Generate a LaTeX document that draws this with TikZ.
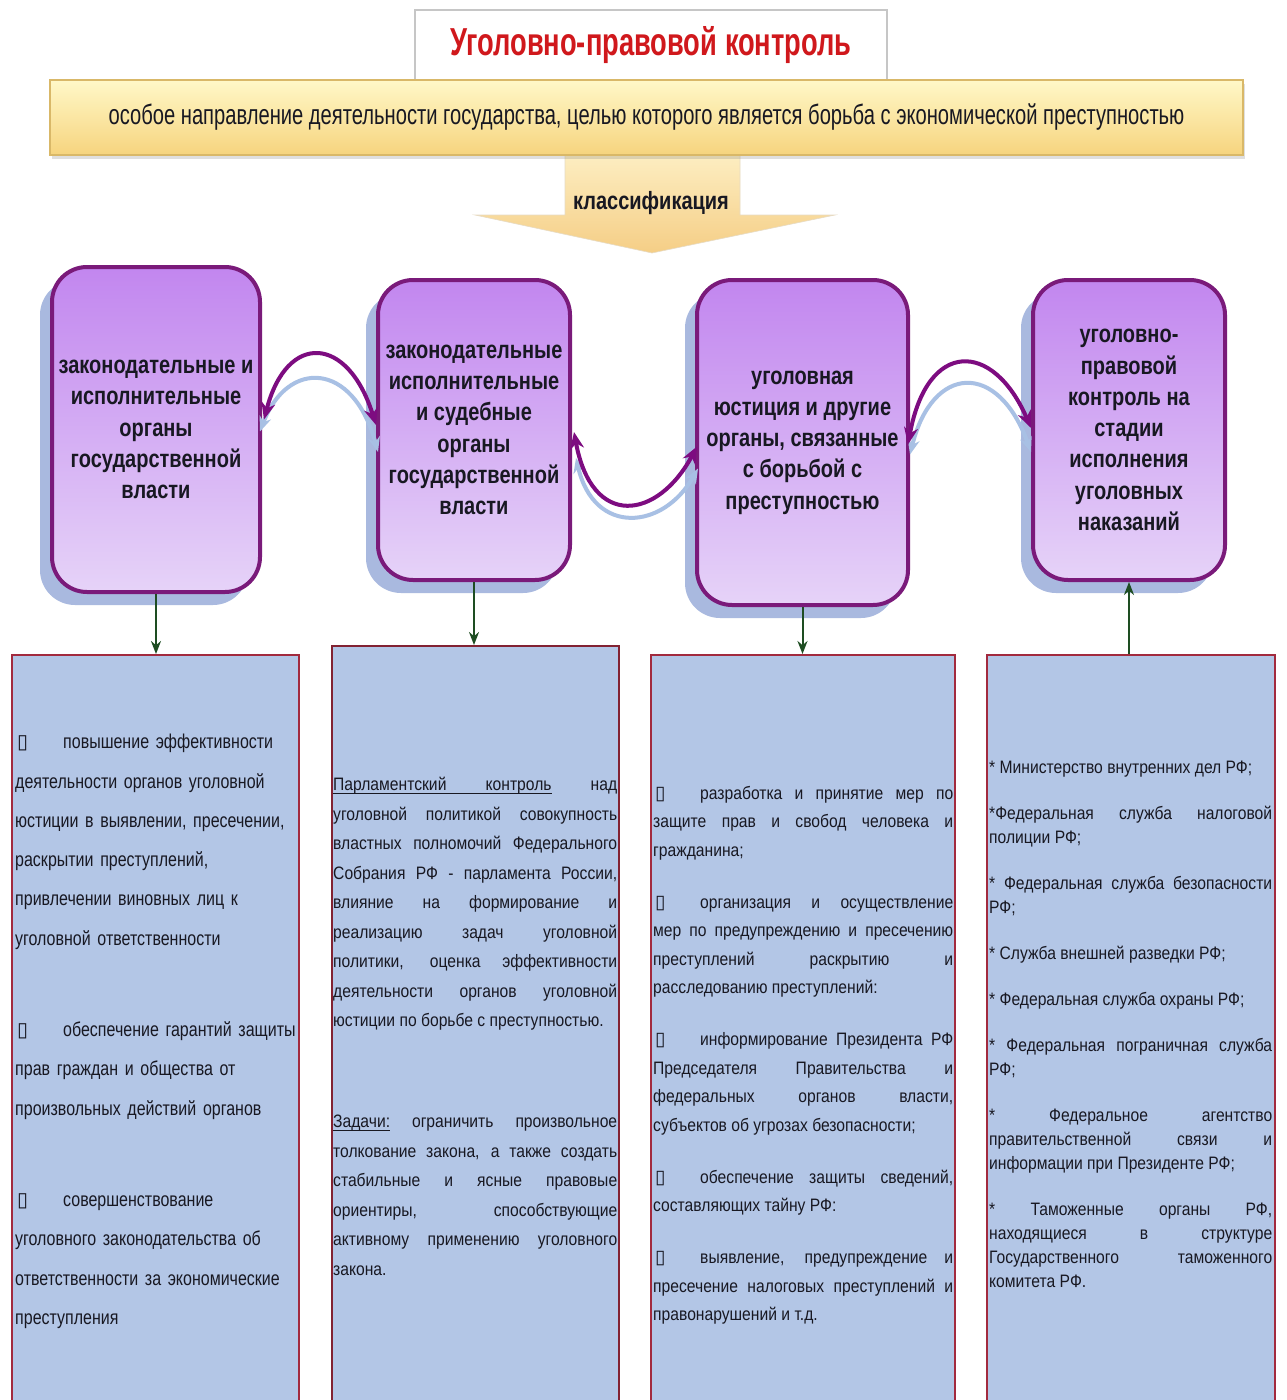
\documentclass[tikz,border=0pt]{standalone}
\usepackage{fontspec}
\setmainfont{Liberation Sans}
\newfontfamily\fTitle[FakeStretch=0.7]{Liberation Sans}
\newfontfamily\fBanner[FakeStretch=0.72]{Liberation Sans}
\newfontfamily\fBox[FakeStretch=0.8]{Liberation Sans}
\newfontfamily\fBody[FakeStretch=0.87]{Liberation Sans}
\newfontfamily\fSym{DejaVu Sans}
\usetikzlibrary{calc,arrows.meta,shadows}
\definecolor{violTop}{HTML}{C286EF}
\definecolor{violBot}{HTML}{E6D3F8}
\definecolor{violLine}{HTML}{7A1A7A}
\definecolor{connPurple}{HTML}{7D0C80}
\definecolor{connBlue}{HTML}{A8C0E4}
\definecolor{shadowBlue}{HTML}{A9B9DF}
\definecolor{panelFill}{HTML}{B3C6E6}
\definecolor{panelLine}{HTML}{A22A3E}
\definecolor{arrowGreen}{HTML}{1E4D22}
\definecolor{titleRed}{HTML}{D0181C}
\definecolor{bannerTop}{HTML}{FFF8C8}
\definecolor{bannerBot}{HTML}{F6D47E}
\definecolor{bannerLine}{HTML}{D9B868}
\definecolor{arrowTop}{HTML}{FDEFC4}
\definecolor{arrowBot}{HTML}{F5CE86}
\definecolor{inkDark}{HTML}{181822}
\setlength{\parindent}{0pt}
\newcommand{\mybulA}{\makebox[48pt][l]{\hspace{2pt}\fSym\fontsize{20}{20}\selectfont ▯}}
\newcommand{\mybulB}{\makebox[47pt][l]{\hspace{2pt}\fSym\fontsize{19}{19}\selectfont ▯}}
\newcommand{\ulword}[1]{\leavevmode\setbox0=\hbox{#1}\rlap{\vrule height -2.6pt depth 3.8pt width \wd0}\box0\relax}
\newcommand{\ulsp}{\leaders\hrule height -2.6pt depth 3.8pt\hskip\fontdimen2\font plus \fontdimen3\font minus \fontdimen4\font\relax}
\pretolerance=10000 \tolerance=10000 \hbadness=10000 \hfuzz=3pt
\begin{document}
\begin{tikzpicture}[x=1pt,y=-1pt,
  titlebox/.style={draw=gray!45, line width=2pt, fill=white, inner sep=0pt,
    font=\fTitle\bfseries\fontsize{39}{42}\selectfont, text=titleRed},
  banner/.style={draw=bannerLine, line width=1.5pt, top color=bannerTop, bottom color=bannerBot,
    inner sep=0pt, font=\fBanner\fontsize{28}{32}\selectfont, text=inkDark,
    drop shadow={shadow xshift=2pt, shadow yshift=-4pt, opacity=0.25}},
  pbox/.style={rounded corners=35pt, draw=violLine, line width=4pt,
    top color=violTop, bottom color=violBot, align=center, inner sep=0pt,
    font=\fBox\bfseries\fontsize{25}{31.3}\selectfont, text=inkDark,
    drop shadow={shadow xshift=-12pt, shadow yshift=-13pt, fill=shadowBlue, opacity=1}},
  panel/.style={draw=panelLine, line width=2pt, fill=panelFill, inner sep=0pt},
  coltext/.style={anchor=north west, inner sep=0pt, text=inkDark},
  conn/.style={draw=connPurple, line width=4pt,
    {Stealth[length=17pt,width=14pt]}-{Stealth[length=17pt,width=14pt]}},
  connshade/.style={draw=connBlue, line width=4pt,
    {Stealth[length=15pt,width=12pt]}-{Stealth[length=15pt,width=12pt]}},
  down/.style={draw=arrowGreen, line width=2pt, -{Stealth[length=13pt,width=10pt]}}
]
\fill[white] (0,0) rectangle (1286,1400);
\useasboundingbox (0,0) rectangle (1286,1400);

% title
\node[titlebox, minimum width=472pt, minimum height=70pt] (title) at (651,45) {Уголовно-правовой контроль};

% classification arrow (behind banner)
\coordinate (tip) at (652,253);
\path[top color=arrowTop, bottom color=arrowBot, draw=arrowBot!80!black!40, line width=0.6pt]
  (565,150) -- (740,150) -- (740,215) -- (835,215) -- (tip) -- (475,215) -- (565,215) -- cycle;
\node[font=\fBox\bfseries\fontsize{25}{28}\selectfont, text=inkDark, inner sep=0pt] (cls) at (651,203) {классификация};

% banner
\node[banner, minimum width=1193pt, minimum height=75pt] (banner) at (646.5,117.5)
  {особое направление деятельности государства, целью которого является борьба с экономической преступностью};

% purple boxes
\node[pbox, minimum width=208pt, minimum height=325pt] (b1) at (156,429.5)
  {законодательные и\\исполнительные\\органы\\государственной\\власти};
\node[pbox, minimum width=192pt, minimum height=300pt] (b2) at (474,430)
  {законодательные\\исполнительные\\и судебные\\органы\\государственной\\власти};
\node[pbox, minimum width=211pt, minimum height=325pt] (b3) at (802.5,442.5)
  {уголовная\\юстиция и другие\\органы, связанные\\с борьбой с\\преступностью};
\node[pbox, minimum width=192pt, minimum height=300pt] (b4) at (1129,430)
  {уголовно-\\правовой\\контроль на\\стадии\\исполнения\\уголовных\\наказаний};

% curved connectors: light shadow first, then purple
\draw[connshade] ($(b1.east)+(-2,2)$) .. controls +(27,-72) and +(-25,-92) .. ($(b2.west)+(2,22)$);
\draw[conn] ($(b1.east)+(2,-10)$) .. controls +(23,-88) and +(-28,-90) .. ($(b2.west)+(0,-5)$);

\draw[connshade] ($(b2.east)+(4,28)$) .. controls +(18,78) and +(-35,62) .. ($(b3.west)+(3,26)$);
\draw[conn] ($(b2.east)+(2,2)$) .. controls +(18,98) and +(-39,73) .. ($(b3.west)+(2,4)$);

\draw[connshade] ($(b3.east)+(0,12)$) .. controls +(22,-90) and +(-33,-92) .. ($(b4.west)+(0,22)$);
\draw[conn] ($(b3.east)+(-2,2)$) .. controls +(19,-105) and +(-38,-88) .. ($(b4.west)+(0,-2)$);

% panels
\node[panel, minimum width=287pt, minimum height=750pt] (c1) at (155.5,1030) {};
\node[panel, minimum width=287pt, minimum height=760pt, draw=panelLine!80!black] (c2) at (475.5,1026) {};
\node[panel, minimum width=304pt, minimum height=750pt] (c3) at (803,1030) {};
\node[panel, minimum width=288pt, minimum height=750pt] (c4) at (1131,1030) {};

% vertical arrows
\draw[down] (b1.south) -- (b1.south |- c1.north);
\draw[down] (b2.south) -- (b2.south |- c2.north);
\draw[down] (b3.south) -- (b3.south |- c3.north);
\draw[down] (c4.north -| b4.south) -- (b4.south);

% panel texts
\node[coltext, text width=282pt, align=left, font=\fBox\fontsize{20}{39.3}\selectfont] (t1) at (15,734)
{\mybulA повышение эффективности\\
деятельности органов уголовной\\
юстиции в выявлении, пресечении,\\
раскрытии преступлений,\\
привлечении виновных лиц к\\
уголовной ответственности\\[52pt]
\mybulA обеспечение гарантий защиты\\
прав граждан и общества от\\
произвольных действий органов\\[52pt]
\mybulA совершенствование\\
уголовного законодательства об\\
ответственности за экономические\\
преступления};

\node[coltext, text width=284pt, align=justify, font=\fBody\fontsize{18}{29.5}\selectfont] (t2) at (333,777)
{\ulword{Парламентский}\ulsp\ulword{контроль} над\linebreak
уголовной политикой совокупность\linebreak
властных полномочий Федерального\linebreak
Собрания РФ - парламента России,\linebreak
влияние на формирование и\linebreak
реализацию задач уголовной\linebreak
политики, оценка эффективности\linebreak
деятельности органов уголовной\linebreak
юстиции по борьбе с преступностью.\par
\vspace{71.5pt}
\ulword{Задачи:} ограничить произвольное\linebreak
толкование закона, а также создать\linebreak
стабильные и ясные правовые\linebreak
ориентиры, способствующие\linebreak
активному применению уголовного\linebreak
закона.\par};

\node[coltext, text width=300pt, align=justify, font=\fBody\fontsize{18}{28.5}\selectfont] (t3) at (653,786)
{\mybulB разработка и принятие мер по\linebreak
защите прав и свобод человека и\linebreak
гражданина;\par\vspace{23.5pt}
\mybulB организация и осуществление\linebreak
мер по предупреждению и пресечению\linebreak
преступлений раскрытию и\linebreak
расследованию преступлений:\par\vspace{23.5pt}
\mybulB информирование Президента РФ\linebreak
Председателя Правительства и\linebreak
федеральных органов власти,\linebreak
субъектов об угрозах безопасности;\par\vspace{23.5pt}
\mybulB обеспечение защиты сведений,\linebreak
составляющих тайну РФ:\par\vspace{23.5pt}
\mybulB выявление, предупреждение и\linebreak
пресечение налоговых преступлений и\linebreak
правонарушений и т.д.\par};

\node[coltext, text width=283pt, align=justify, font=\fBody\fontsize{18}{24}\selectfont] (t4) at (989,761)
{* Министерство внутренних дел РФ;\par\vspace{22pt}
*Федеральная служба налоговой\linebreak
полиции РФ;\par\vspace{22pt}
* Федеральная служба безопасности\linebreak
РФ;\par\vspace{22pt}
* Служба внешней разведки РФ;\par\vspace{22pt}
* Федеральная служба охраны РФ;\par\vspace{22pt}
* Федеральная пограничная служба\linebreak
РФ;\par\vspace{22pt}
* Федеральное агентство\linebreak
правительственной связи и\linebreak
информации при Президенте РФ;\par\vspace{22pt}
* Таможенные органы РФ,\linebreak
находящиеся в структуре\linebreak
Государственного таможенного\linebreak
комитета РФ.\par};
\end{tikzpicture}
\end{document}
